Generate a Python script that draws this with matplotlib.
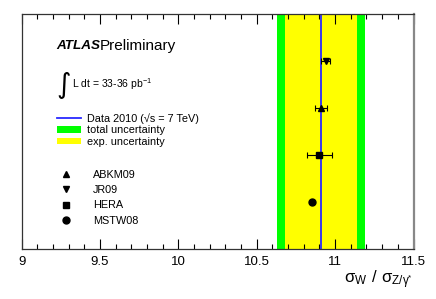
import numpy as np
import matplotlib
matplotlib.use('Agg')
import matplotlib.pyplot as plt
from matplotlib.patches import Patch
from matplotlib.ticker import MultipleLocator

plt.rcParams['font.family'] = ['Liberation Sans', 'DejaVu Sans']

# measured ratio and uncertainties
data_val = 10.91
exp_err = 0.23
tot_err = 0.28

# PDF predictions
pdf_names = ['ABKM09', 'JR09', 'HERA', 'MSTW08']
pdf_vals = [10.91, 10.94, 10.90, 10.85]
pdf_errs = [0.04, 0.03, 0.08, 0.0]
pdf_ypos = [0.6, 0.8, 0.4, 0.2]
pdf_markers = ['^', 'v', 's', 'o']

W, H = 436, 299
fig = plt.figure(figsize=(W / 100, H / 100), dpi=100)
ax = fig.add_axes([21.7 / W, 1 - 249 / H, (413.5 - 21.7) / W, (249 - 14) / H])

ax.axvspan(data_val - tot_err, data_val + tot_err, color='#00ff00', lw=0)
ax.axvspan(data_val - exp_err, data_val + exp_err, color='#ffff00', lw=0)
hline = ax.axvline(data_val, color='#2a2aff', lw=1.3)

handles = []
for name, v, e, y, m in zip(pdf_names, pdf_vals, pdf_errs, pdf_ypos, pdf_markers):
    if e > 0:
        ax.errorbar(v, y, xerr=e, fmt='none', ecolor='black', elinewidth=0.8,
                    capsize=2.5, capthick=0.8)
    h, = ax.plot(v, y, ls='none', marker=m, color='black', ms=5, label=name)
    handles.append(h)

ax.set_xlim(9, 11.5)
ax.set_ylim(0, 1)
ax.xaxis.set_major_locator(MultipleLocator(0.5))
ax.xaxis.set_minor_locator(MultipleLocator(0.1))
ax.xaxis.set_major_formatter(matplotlib.ticker.FormatStrFormatter('%g'))
ax.tick_params(axis='x', which='both', direction='in', top=True, labelsize=9.5, pad=5)
ax.tick_params(axis='x', which='major', length=7, width=0.8)
ax.tick_params(axis='x', which='minor', length=3.5, width=0.8)
ax.set_yticks([])
for s in ax.spines.values():
    s.set_color('#333333')
    s.set_linewidth(0.9)
ax.spines['right'].set_color('#888888')
ax.spines['right'].set_linewidth(1.6)

ax.set_xlabel(r'$\mathregular{σ_W\ /\ σ_{Z/γ^{*}}}$', fontsize=12, loc='right', labelpad=0)

# labels
fig.text(56 / W, 1 - 46 / H, 'ATLAS', fontsize=9.7, weight='bold', style='italic', va='center')
fig.text(100 / W, 1 - 46 / H, 'Preliminary', fontsize=11, va='center')
fig.text(56 / W, 1 - 85 / H, '∫', fontsize=20, va='center', family=['DejaVu Sans'])
fig.text(72 / W, 1 - 84 / H, r'L dt = 33-36 pb$^{\mathregular{-1}}$', fontsize=7.5, va='center')

leg1 = ax.legend([hline, Patch(color='#00ff00', lw=0), Patch(color='#ffff00', lw=0)],
                 ['Data 2010 (√s = 7 TeV)', 'total uncertainty', 'exp. uncertainty'],
                 loc='upper left', bbox_to_anchor=(57 / W, 1 - 113 / H),
                 bbox_transform=fig.transFigure, frameon=False, fontsize=7.8,
                 handlelength=2.2, handleheight=0.5, handletextpad=0.6,
                 labelspacing=0.15, borderpad=0, borderaxespad=0)
ax.add_artist(leg1)
ax.legend(handles=handles, loc='upper left', bbox_to_anchor=(58 / W, 1 - 170 / H),
          bbox_transform=fig.transFigure, frameon=False, fontsize=7.8,
          handlelength=1.4, handletextpad=1.8, labelspacing=0.48,
          borderpad=0, borderaxespad=0, markerscale=1.0)

fig.savefig('out.png', dpi=100)
